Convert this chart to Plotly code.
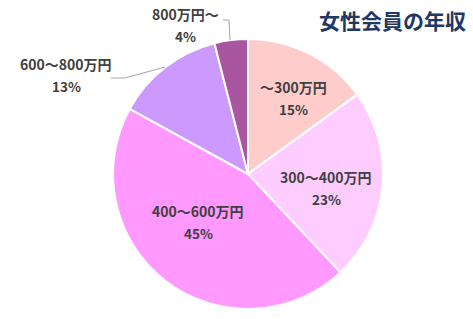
import plotly.graph_objects as go

categories = ["～300万円", "300～400万円", "400～600万円", "600～800万円", "800万円～"]
values = [15, 23, 45, 13, 4]
colors = ["#FFCCCC", "#FFCCFF", "#FF99FF", "#CC99FF", "#A9559F"]
title_text = "女性会員の年収"

W, H = 473, 319
cx, cy, r = 248, 174, 135

fig = go.Figure(go.Pie(
    labels=categories,
    values=values,
    sort=False,
    direction="clockwise",
    rotation=0,
    marker=dict(colors=colors, line=dict(color="white", width=2)),
    textinfo="none",
    hoverinfo="label+percent",
    domain=dict(x=[(cx - r) / W, (cx + r) / W], y=[1 - (cy + r) / H, 1 - (cy - r) / H]),
    showlegend=False,
))

# label anchor positions (pixels, center of the two-line label)
label_pos = [(293, 98), (326, 188), (198, 222), (66, 75), (185, 25)]
font_family = "Noto Sans CJK JP"
total = sum(values)
for (lx, ly), cat, v in zip(label_pos, categories, values):
    pct = f"{round(v / total * 100)}%"
    fig.add_annotation(x=lx / W, y=1 - (ly - 11) / H, xref="paper", yref="paper",
                       xanchor="center", yanchor="middle",
                       text=f"<b>{cat}</b>", showarrow=False,
                       font=dict(family=font_family, size=14, color="#404040"))
    fig.add_annotation(x=lx / W, y=1 - (ly + 11) / H, xref="paper", yref="paper",
                       xanchor="center", yanchor="middle",
                       text=f"<b>{pct}</b>", showarrow=False,
                       font=dict(family=font_family, size=13.5, color="#404040"))

# leader lines
def px(x, y):
    return x / W, 1 - y / H

for pts in [[(111, 78), (125, 78), (165, 67)], [(223, 20), (229, 20), (230, 40)]]:
    path = "M " + " L ".join(f"{px(x, y)[0]},{px(x, y)[1]}" for x, y in pts)
    fig.add_shape(type="path", path=path, xref="paper", yref="paper",
                  line=dict(color="#A6A6A6", width=1))

fig.add_annotation(x=392 / W, y=1 - 20 / H, xref="paper", yref="paper",
                   xanchor="center", yanchor="middle",
                   text=f"<b>{title_text}</b>", showarrow=False,
                   font=dict(family=font_family, size=21, color="#1F3864"))

fig.update_layout(width=W, height=H, margin=dict(l=0, r=0, t=0, b=0),
                  paper_bgcolor="white", plot_bgcolor="white")

fig.write_html("out.html")
